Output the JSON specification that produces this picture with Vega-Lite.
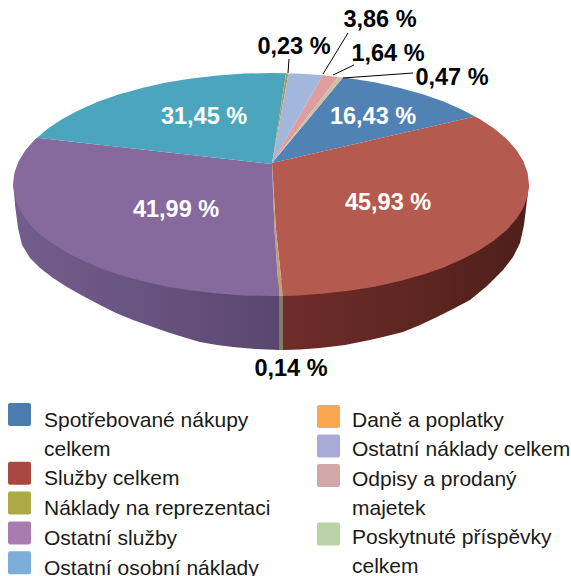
{
"$schema":"https://vega.github.io/schema/vega-lite/v6.json",
"width":571,"height":576,"padding":0,"autosize":{"type":"none"},
"config":{"view":{"stroke":null},"font":"Liberation Sans"},
"datasets":{
"slices":[
{"name":"Spotřebované nákupy celkem","label":"16,43 %","lx":373,"ly":117,"onPie":true,"col":1},
{"name":"Služby celkem","label":"45,93 %","lx":388,"ly":203,"onPie":true,"col":1},
{"name":"Náklady na reprezentaci","label":"0,14 %","lx":291,"ly":369,"onPie":false,"col":1},
{"name":"Ostatní služby","label":"41,99 %","lx":176,"ly":210,"onPie":true,"col":1},
{"name":"Ostatní osobní náklady","label":"31,45 %","lx":204,"ly":117,"onPie":true,"col":1},
{"name":"Daně a poplatky","label":"0,23 %","lx":294,"ly":47,"onPie":false,"col":2},
{"name":"Ostatní náklady celkem","label":"3,86 %","lx":380,"ly":20,"onPie":false,"col":2},
{"name":"Odpisy a prodaný majetek","label":"1,64 %","lx":388,"ly":54,"onPie":false,"col":2},
{"name":"Poskytnuté příspěvky celkem","label":"0,47 %","lx":452,"ly":78,"onPie":false,"col":2}
],
"leaders":[
{"name":"Daně a poplatky","x":289,"y":59,"x2":288,"y2":73},
{"name":"Ostatní náklady celkem","x":348,"y":33,"x2":323,"y2":74},
{"name":"Odpisy a prodaný majetek","x":354,"y":65,"x2":333,"y2":75},
{"name":"Poskytnuté příspěvky celkem","x":413,"y":73,"x2":343,"y2":78}
],
"walls":[
{"type":"Feature","properties":{"wall":"purple"},"geometry":{"type":"Polygon","coordinates":[[[13,184.5],[14,190],[15,205],[18,228],[22,245],[30,258],[40,268],[53,278],[67,287],[83,296],[100,305],[116,313],[133,320],[150,326],[167,332],[183,337],[200,342],[217,345],[233,347],[255,349],[279,350],[279,280],[13,184.5]]]}},
{"type":"Feature","properties":{"wall":"strip"},"geometry":{"type":"Polygon","coordinates":[[[279,280],[279,350],[283,350],[283,280],[279,280]]]}},
{"type":"Feature","properties":{"wall":"red"},"geometry":{"type":"Polygon","coordinates":[[[283,280],[283,350],[300,349.5],[320,348],[345,345],[370,340],[387,336],[403,332],[420,325],[437,317],[453,309],[470,300],[487,286],[503,270],[513,257],[520,243],[524,225],[527,200],[529,184.5],[283,280]]]}}
],
"faces":[
{"type":"Feature","properties":{"name":"Spotřebované nákupy celkem"},"geometry":{"type":"Polygon","coordinates":[[[272,163],[343,77.6],[350.7,78.5],[375.9,82.6],[400,87.9],[422.7,94.3],[443.6,101.6],[462.7,109.9],[475,116.5],[272,163]]]}},
{"type":"Feature","properties":{"name":"Služby celkem"},"geometry":{"type":"Polygon","coordinates":[[[272,163],[475,116.5],[479.7,119],[494.4,128.7],[506.7,139.1],[516.4,150],[523.4,161.3],[527.6,172.8],[529,184.5],[527.6,196.2],[523.4,207.7],[516.4,219],[506.7,229.9],[494.4,240.3],[479.7,250],[462.7,259.1],[443.6,267.4],[422.7,274.7],[400,281.1],[375.9,286.4],[350.7,290.5],[324.6,293.6],[298,295.4],[283,295.9],[276,230],[272,163]]]}},
{"type":"Feature","properties":{"name":"Náklady na reprezentaci"},"geometry":{"type":"Polygon","coordinates":[[[272,163],[276,230],[283,295.9],[279,295.9],[274.5,230],[272,163]]]}},
{"type":"Feature","properties":{"name":"Ostatní služby"},"geometry":{"type":"Polygon","coordinates":[[[272,164],[274.5,230],[279,295.9],[271,296],[244,295.4],[217.4,293.6],[191.3,290.5],[166.1,286.4],[142,281.1],[119.3,274.7],[98.4,267.4],[79.3,259.1],[62.3,250],[47.6,240.3],[35.3,229.9],[25.6,219],[18.6,207.7],[14.4,196.2],[13,184.5],[14.4,172.8],[18.6,161.3],[25.6,150],[35.3,139.1],[37,137.7],[272,164]]]}},
{"type":"Feature","properties":{"name":"Ostatní osobní náklady"},"geometry":{"type":"Polygon","coordinates":[[[272,164],[37,137.7],[47.6,128.7],[62.3,119],[79.3,109.9],[98.4,101.6],[119.3,94.3],[142,87.9],[166.1,82.6],[191.3,78.5],[217.4,75.4],[244,73.6],[271,73],[286,73.2],[272,164]]]}},
{"type":"Feature","properties":{"name":"Daně a poplatky"},"geometry":{"type":"Polygon","coordinates":[[[272,163],[286,73.2],[288.5,73.4],[272,163]]]}},
{"type":"Feature","properties":{"name":"Ostatní náklady celkem"},"geometry":{"type":"Polygon","coordinates":[[[272,163],[288.5,73.4],[298,73.6],[323,75.3],[272,163]]]}},
{"type":"Feature","properties":{"name":"Odpisy a prodaný majetek"},"geometry":{"type":"Polygon","coordinates":[[[272,163],[323,75.3],[338,77],[272,163]]]}},
{"type":"Feature","properties":{"name":"Poskytnuté příspěvky celkem"},"geometry":{"type":"Polygon","coordinates":[[[272,163],[338,77],[343,77.6],[272,163]]]}}
]
},
"layer":[
{"data":{"name":"slices"},"transform":[{"filter":"datum.col==1"}],
 "mark":{"type":"point","filled":true,"opacity":0,"size":1},
 "encoding":{
  "x":{"field":"lx","type":"quantitative","scale":{"domain":[0,571],"nice":false},"axis":null},
  "y":{"field":"ly","type":"quantitative","scale":{"domain":[576,0],"nice":false},"axis":null},
  "color":{"field":"name","type":"nominal",
   "scale":{"domain":["Spotřebované nákupy celkem","Služby celkem","Náklady na reprezentaci","Ostatní služby","Ostatní osobní náklady"],
    "range":["#4a7dac","#a8473f","#abaa45","#a77daf","#7dadd8"]},
   "legend":{"title":null,"orient":"none","legendX":8,"legendY":403,"direction":"vertical",
    "symbolType":"M-0.82,-1L0.82,-1Q1,-1 1,-0.82L1,0.82Q1,1 0.82,1L-0.82,1Q-1,1 -1,0.82L-1,-0.82Q-1,-1 -0.82,-1Z",
    "symbolSize":529,"symbolOpacity":1,"symbolStrokeWidth":0,
    "labelFont":"Liberation Sans","labelFontSize":21,"labelColor":"#1a1a1a","labelLimit":320,"labelOffset":13,"rowPadding":1.8,"padding":0,
    "labelBaseline":"middle",
    "labelExpr":"datum.label=='Spotřebované nákupy celkem'?['Spotřebované nákupy','celkem']:datum.label",
    "encode":{"symbols":{"update":{"opacity":{"value":1}}},"labels":{"update":{"lineHeight":{"value":29},"dy":{"value":6}}}}
   }}
 }},
{"data":{"name":"slices"},"transform":[{"filter":"datum.col==2"}],
 "mark":{"type":"point","filled":true,"opacity":0,"size":1},
 "encoding":{
  "x":{"field":"lx","type":"quantitative","scale":{"domain":[0,571],"nice":false},"axis":null},
  "y":{"field":"ly","type":"quantitative","scale":{"domain":[576,0],"nice":false},"axis":null},
  "stroke":{"field":"name","type":"nominal",
   "scale":{"domain":["Daně a poplatky","Ostatní náklady celkem","Odpisy a prodaný majetek","Poskytnuté příspěvky celkem"],
    "range":["#fba650","#a9abd6","#d1a8a6","#b9d3a6"]},
   "legend":{"title":null,"orient":"none","legendX":317,"legendY":405,"direction":"vertical",
    "symbolType":"M-0.82,-1L0.82,-1Q1,-1 1,-0.82L1,0.82Q1,1 0.82,1L-0.82,1Q-1,1 -1,0.82L-1,-0.82Q-1,-1 -0.82,-1Z",
    "symbolSize":529,"symbolOpacity":1,"symbolStrokeWidth":0,
    "labelFont":"Liberation Sans","labelFontSize":21,"labelColor":"#1a1a1a","labelLimit":320,"labelOffset":12,"rowPadding":3.5,"padding":0,
    "labelBaseline":"middle",
    "labelExpr":"datum.label=='Odpisy a prodaný majetek'?['Odpisy a prodaný','majetek']:datum.label=='Poskytnuté příspěvky celkem'?['Poskytnuté příspěvky','celkem']:datum.label",
    "encoding":{"symbols":{"opacity":{"value":1},"fill":{"value":{"expr":"scale('stroke',datum.value)"}}},"labels":{"lineHeight":{"value":29},"dy":{"value":4}}}
   }}
 }},
{"data":{"name":"walls"},"transform":[{"filter":"datum.properties.wall=='purple'"}],
 "projection":{"type":"identity","scale":1,"translate":[0,0]},
 "mark":{"type":"geoshape","stroke":null,"fill":{"gradient":"linear","x1":0,"x2":1,"y1":0,"y2":0,"stops":[{"offset":0,"color":"#735d8c"},{"offset":0.5,"color":"#67537f"},{"offset":1,"color":"#5a476f"}]}},
 "encoding":{}},
{"data":{"name":"walls"},"transform":[{"filter":"datum.properties.wall=='strip'"}],
 "projection":{"type":"identity","scale":1,"translate":[0,0]},
 "mark":{"type":"geoshape","stroke":null,"fill":"#85795f"},
 "encoding":{}},
{"data":{"name":"walls"},"transform":[{"filter":"datum.properties.wall=='red'"}],
 "projection":{"type":"identity","scale":1,"translate":[0,0]},
 "mark":{"type":"geoshape","stroke":null,"fill":{"gradient":"linear","x1":0,"x2":1,"y1":0,"y2":0,"stops":[{"offset":0,"color":"#6e2d28"},{"offset":0.5,"color":"#5f2621"},{"offset":1,"color":"#4f1f1b"}]}},
 "encoding":{}},
{"data":{"name":"faces"},
 "projection":{"type":"identity","scale":1,"translate":[0,0]},
 "mark":{"type":"geoshape","stroke":null},
 "encoding":{"fill":{"field":"properties.name","type":"nominal","legend":null,
  "scale":{"domain":["Spotřebované nákupy celkem","Služby celkem","Náklady na reprezentaci","Ostatní služby","Ostatní osobní náklady","Daně a poplatky","Ostatní náklady celkem","Odpisy a prodaný majetek","Poskytnuté příspěvky celkem"],
   "range":["#5082b4","#b55a4e","#c4a07a","#866a9e","#4ba6bd","#b09a60","#a3b6dc","#dd9ea0","#cdbfa8"]}}}},
{"data":{"name":"leaders"},
 "mark":{"type":"rule","color":"#000000","strokeWidth":1},
 "encoding":{"x":{"field":"x","type":"quantitative","scale":{"domain":[0,571],"nice":false},"axis":null},"y":{"field":"y","type":"quantitative","scale":{"domain":[576,0],"nice":false},"axis":null},"x2":{"field":"x2"},"y2":{"field":"y2"}}},
{"data":{"name":"slices"},
 "mark":{"type":"text","font":"Liberation Sans","fontWeight":"bold","fontSize":23.5,"baseline":"middle","align":"center"},
 "encoding":{"x":{"field":"lx","type":"quantitative","scale":{"domain":[0,571],"nice":false},"axis":null},"y":{"field":"ly","type":"quantitative","scale":{"domain":[576,0],"nice":false},"axis":null},"text":{"field":"label"},
  "color":{"condition":{"test":"datum.onPie","value":"#ffffff"},"value":"#000000"}}}
]
}
